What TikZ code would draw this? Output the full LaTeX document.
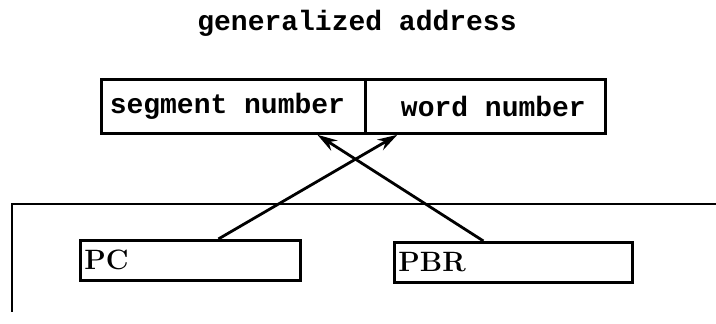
\documentclass[tikz,border=0pt]{standalone}
\usepackage{fontspec}
\newfontfamily\mono{Liberation Mono}
\usetikzlibrary{arrows.meta,calc}
\tikzset{
  box/.style={draw, line width=1.4pt, inner sep=0pt, minimum height=27pt, font=\mono\bfseries\fontsize{14}{16}\selectfont},
  reg/.style={draw, line width=1.4pt, inner sep=2pt, minimum height=20pt, text width=106pt, align=left, font=\bfseries\fontsize{14}{16}\selectfont},
  conn/.style={line width=1.4pt, -{Stealth[length=10pt,width=6pt]}},
  wire/.style={line width=1.4pt}
}
\begin{document}
\begin{tikzpicture}[x=0.5pt,y=-0.5pt]
\useasboundingbox (0,0) rectangle (716,324);
\node[font=\mono\bfseries\fontsize{14}{16}\selectfont] (title) at (357,23) {generalized address};
\node[box, minimum width=132pt, anchor=north west] (seg) at (100,78) {\hspace{-6pt}segment number};
\node[box, minimum width=120pt, anchor=north west] (word) at (364,78) {\hspace{8pt}word number};
\node[reg, minimum width=110pt, anchor=north west] (pc) at (79,239) {PC};
\node[reg, minimum width=119pt, text width=115pt, anchor=north west] (pbr) at (393,241) {PBR};
\coordinate (corner) at (12,204);
\coordinate (rightend) at (716,204);
\coordinate (bottomend) at (12,312);
\draw[wire] (bottomend) -- (corner) -- (rightend);
\draw[conn] ([xshift=14pt]pc.north) -- ([xshift=-44pt]word.south);
\draw[conn] ([xshift=-15pt]pbr.north) -- ([xshift=42pt]seg.south);
\end{tikzpicture}
\end{document}
